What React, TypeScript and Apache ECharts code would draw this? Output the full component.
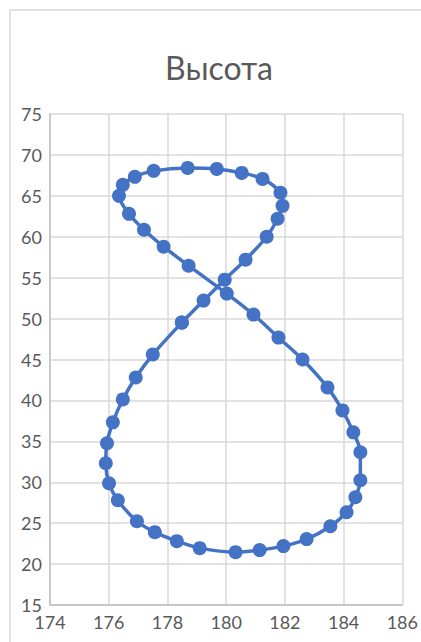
import React, { useEffect, useRef } from "react";
import * as echarts from "echarts";

const titleText = "Высота";
const xTicks = [174, 176, 178, 180, 182, 184, 186];
const yTicks = [15, 20, 25, 30, 35, 40, 45, 50, 55, 60, 65, 70, 75];

const xValues = [
  178.49, 179.23, 179.95, 180.66, 181.38, 181.75, 181.92, 181.85, 181.24, 180.53,
  179.68, 178.69, 177.53, 176.89, 176.48, 176.35, 176.69, 177.2, 177.87, 178.72,
  180.02, 180.93, 181.78, 182.6, 183.45, 183.96, 184.33, 184.57, 184.57, 184.4,
  184.1, 183.55, 182.74, 181.95, 181.14, 180.32, 179.1, 178.32, 177.57, 176.96,
  176.31, 176.01, 175.9, 175.94, 176.14, 176.48, 176.92, 177.5, 178.49,
];
const yValues = [
  49.51, 52.2, 54.76, 57.2, 60.0, 62.2, 63.78, 65.37, 67.07, 67.8,
  68.29, 68.41, 68.05, 67.32, 66.34, 65.0, 62.8, 60.85, 58.78, 56.46,
  53.05, 50.49, 47.68, 45.0, 41.59, 38.78, 36.1, 33.66, 30.24, 28.17,
  26.34, 24.63, 23.05, 22.2, 21.71, 21.46, 21.95, 22.8, 23.9, 25.24,
  27.8, 29.88, 32.32, 34.76, 37.32, 40.12, 42.8, 45.61, 49.51,
];

export default function App() {
  const ref = useRef<HTMLDivElement>(null);
  useEffect(() => {
    document.body.style.margin = "0";
    if (!ref.current) return;
    const chart = echarts.init(ref.current, undefined, { renderer: "svg" });
    const data = xValues.map((x, i) => [x, yValues[i]]);
    const labelColor = "#595959";
    chart.setOption({
      animation: false,
      backgroundColor: "#ffffff",
      graphic: [
        {
          type: "rect",
          shape: { x: 10, y: 10, width: 440, height: 660 },
          style: { fill: "none", stroke: "#d9d9d9", lineWidth: 1.5 },
          silent: true,
        },
        {
          type: "text",
          x: 219,
          y: 67,
          style: {
            text: titleText,
            fill: labelColor,
            font: "32px Lato",
            textAlign: "center",
            textVerticalAlign: "middle",
          },
        },
      ],
      grid: { left: 50, right: 18, top: 114, bottom: 37, containLabel: false },
      xAxis: {
        type: "value",
        min: xTicks[0],
        max: xTicks[xTicks.length - 1],
        interval: 2,
        axisLine: { show: true, lineStyle: { color: "#bfbfbf", width: 1.5 } },
        axisTick: { show: false },
        splitLine: { show: true, lineStyle: { color: "#d9d9d9", width: 1.5 } },
        axisLabel: { color: labelColor, fontSize: 18, fontFamily: "Lato", margin: 9, lineHeight: 16 },
      },
      yAxis: {
        type: "value",
        min: yTicks[0],
        max: yTicks[yTicks.length - 1],
        interval: 5,
        axisLine: { show: true, lineStyle: { color: "#bfbfbf", width: 1.5 } },
        axisTick: { show: false },
        splitLine: { show: true, lineStyle: { color: "#d9d9d9", width: 1.5 } },
        axisLabel: { color: labelColor, fontSize: 18, fontFamily: "Lato", margin: 8, lineHeight: 16 },
      },
      series: [
        {
          type: "line",
          data,
          smooth: 0.3,
          symbol: "circle",
          symbolSize: 14,
          showAllSymbol: true,
          lineStyle: { color: "#4472C4", width: 3.5 },
          itemStyle: { color: "#4472C4" },
        },
      ],
    });
    return () => chart.dispose();
  }, []);
  return (
    <div
      ref={ref}
      style={{ position: "absolute", left: 0, top: 0, width: 421, height: 642 }}
    />
  );
}
